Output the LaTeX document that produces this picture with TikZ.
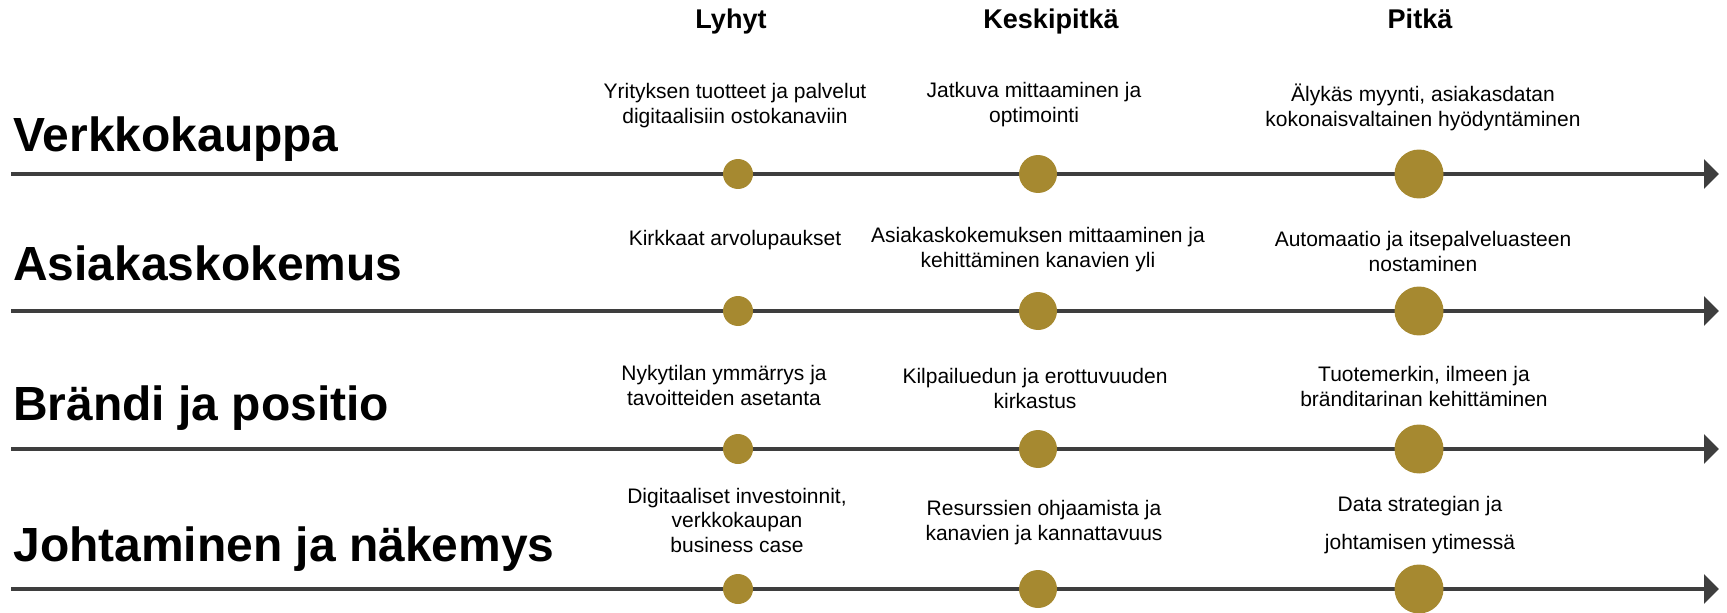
\documentclass[tikz,border=0pt]{standalone}
\usepackage{fontspec}
\setmainfont{Liberation Sans}
\usetikzlibrary{arrows.meta}
\definecolor{timegold}{RGB}{166,137,48}
\definecolor{axisgrey}{RGB}{62,62,62}

\begin{document}
\begin{tikzpicture}[x=0.02cm,y=-0.02cm,
	axis/.style={draw=axisgrey,line width=2.28pt,-{Triangle[length=0.3cm,width=0.58cm]}},
	dot/.style={circle,fill=timegold,inner sep=0,outer sep=0},
	dotS/.style={dot,minimum size=0.6cm},
	dotM/.style={dot,minimum size=0.76cm},
	dotL/.style={dot,minimum size=0.98cm},
	colhead/.style={anchor=base,inner sep=0,font=\fontsize{15.4pt}{18pt}\selectfont\bfseries},
	rowtitle/.style={anchor=base west,inner sep=0,font=\fontsize{27.3pt}{32pt}\selectfont\bfseries},
	goaltext/.style={anchor=base,inner sep=0,align=center,font=\fontsize{11.95pt}{13.9pt}\selectfont}]
	\useasboundingbox (0,0) rectangle (1727,612);
	% column heads
	\node[colhead] (lyhyt) at (731,29) {Lyhyt};
	\node[colhead] (keski) at (1051,29) {Keskipitkä};
	\node[colhead] (pitka) at (1420,29) {Pitkä};
	% row titles
	\node[rowtitle] (verkko) at (13,151) {Verkkokauppa};
	\node[rowtitle] (asiakas) at (13,280) {Asiakaskokemus};
	\node[rowtitle] (brandi) at (13,420) {Brändi ja positio};
	\node[rowtitle] (johto) at (13,561) {Johtaminen ja näkemys};
	% time axes
	\coordinate (vs) at (11,174); \coordinate (ve) at (1719,174);
	\coordinate (as) at (11,311); \coordinate (ae) at (1719,311);
	\coordinate (bs) at (11,449); \coordinate (be) at (1719,449);
	\coordinate (js) at (11,589); \coordinate (je) at (1719,589);
	\draw[axis] (vs) -- (ve);
	\draw[axis] (as) -- (ae);
	\draw[axis] (bs) -- (be);
	\draw[axis] (js) -- (je);
	% milestones
	\node[dotS] (v1) at (738,174) {};
	\node[dotM] (v2) at (1038,174) {};
	\node[dotL] (v3) at (1419,174) {};
	\node[dotS] (a1) at (738,311) {};
	\node[dotM] (a2) at (1038,311) {};
	\node[dotL] (a3) at (1419,311) {};
	\node[dotS] (b1) at (738,449) {};
	\node[dotM] (b2) at (1038,449) {};
	\node[dotL] (b3) at (1419,449) {};
	\node[dotS] (j1) at (738,589) {};
	\node[dotM] (j2) at (1038,589) {};
	\node[dotL] (j3) at (1419,589) {};
	% goals (base = last line)
	\node[goaltext] (vt1) at (735,123) {Yrityksen tuotteet ja palvelut\\digitaalisiin ostokanaviin};
	\node[goaltext] (vt2) at (1034,122) {Jatkuva mittaaminen ja\\optimointi};
	\node[goaltext] (vt3) at (1423,126) {Älykäs myynti, asiakasdatan\\kokonaisvaltainen hyödyntäminen};
	\node[goaltext] (at1) at (735,245) {Kirkkaat arvolupaukset};
	\node[goaltext] (at2) at (1038,267) {Asiakaskokemuksen mittaaminen ja\\kehittäminen kanavien yli};
	\node[goaltext] (at3) at (1423,271) {Automaatio ja itsepalveluasteen\\nostaminen};
	\node[goaltext] (bt1) at (724,405) {Nykytilan ymmärrys ja\\tavoitteiden asetanta};
	\node[goaltext] (bt2) at (1035,408) {Kilpailuedun ja erottuvuuden\\kirkastus};
	\node[goaltext] (bt3) at (1424,406) {Tuotemerkin, ilmeen ja\\bränditarinan kehittäminen};
	\node[goaltext] (jt1) at (737,552) {Digitaaliset investoinnit,\\verkkokaupan\\business case};
	\node[goaltext] (jt2) at (1044,540) {Resurssien ohjaamista ja\\kanavien ja kannattavuus};
	\node[goaltext] (jt3) at (1420,549) {Data strategian ja\\[7.7pt]johtamisen ytimessä};
\end{tikzpicture}
\end{document}
